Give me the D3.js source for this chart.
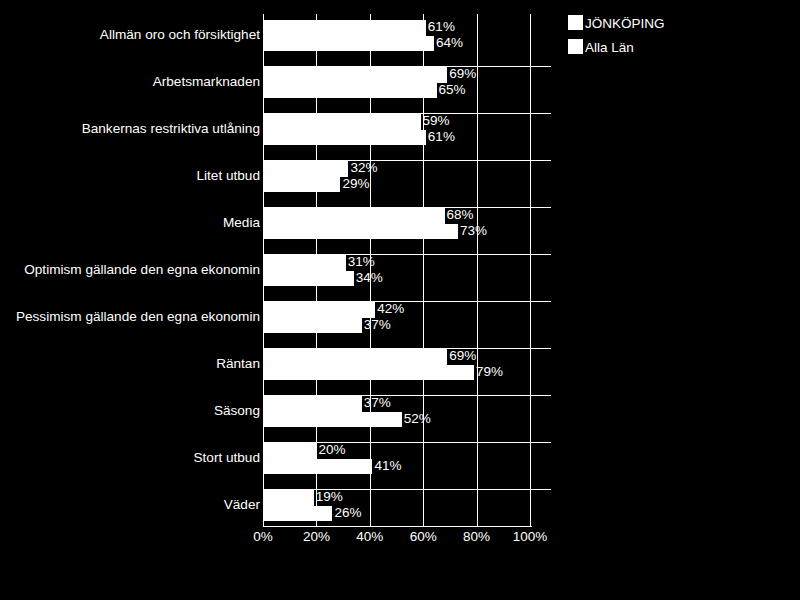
<!DOCTYPE html>
<html>
<head>
<meta charset="utf-8">
<script src="https://cdn.jsdelivr.net/npm/d3@7"></script>
<style>
  html, body { margin: 0; padding: 0; background: #000; }
  svg { display: block; }
  text { font-family: "Liberation Sans", Arial, sans-serif; fill: #fff; }
</style>
</head>
<body>
<svg id="chart" width="800" height="600"></svg>
<script>
const categories = [
  "Allmän oro och försiktighet",
  "Arbetsmarknaden",
  "Bankernas restriktiva utlåning",
  "Litet utbud",
  "Media",
  "Optimism gällande den egna ekonomin",
  "Pessimism gällande den egna ekonomin",
  "Räntan",
  "Säsong",
  "Stort utbud",
  "Väder"
];
const seriesNames = ["JÖNKÖPING", "Alla Län"];
const jonkoping = [61, 69, 59, 32, 68, 31, 42, 69, 37, 20, 19];
const allaLan   = [64, 65, 61, 29, 73, 34, 37, 79, 52, 41, 26];
const xTickValues = [0, 20, 40, 60, 80, 100];
const xTickLabels = ["0%", "20%", "40%", "60%", "80%", "100%"];

const svg = d3.select("#chart");
svg.append("rect").attr("width", 800).attr("height", 600).attr("fill", "#000");

const plotLeft = 263, plotRight = 530, plotTop = 14, plotBottom = 526;

const x = d3.scaleLinear().domain([0, 100]).range([plotLeft, plotRight]);
const y = d3.scaleBand().domain(categories).range([12, 529])
  .paddingInner(0.32).paddingOuter(0.16);
const ySub = d3.scaleBand().domain(seriesNames).range([0, y.bandwidth()]);

const g = svg.append("g").attr("shape-rendering", "crispEdges");

// horizontal gridlines (between category groups)
g.selectAll("line.hgrid").data(categories.slice(1)).enter().append("line")
  .attr("class", "hgrid")
  .attr("x1", plotLeft).attr("x2", 551)
  .attr("y1", d => Math.round(y(d)) - 0.5).attr("y2", d => Math.round(y(d)) - 0.5)
  .attr("stroke", "#fff").attr("stroke-width", 1);

// bars
const data = [];
categories.forEach((c, i) => {
  data.push({ cat: c, series: seriesNames[0], value: jonkoping[i] });
  data.push({ cat: c, series: seriesNames[1], value: allaLan[i] });
});

g.selectAll("rect.bar").data(data).enter().append("rect")
  .attr("class", "bar")
  .attr("x", plotLeft)
  .attr("y", d => y(d.cat) + ySub(d.series))
  .attr("width", d => x(d.value) - plotLeft)
  .attr("height", ySub.bandwidth())
  .attr("fill", "#fff");

// data labels with black backgrounds
const labelsG = svg.append("g");
data.forEach(d => {
  const bx = x(d.value) + 1;
  const by = y(d.cat) + ySub(d.series);
  const t = labelsG.append("text")
    .attr("x", bx + 1)
    .attr("y", by + ySub.bandwidth() / 2 - 1)
    .attr("dominant-baseline", "central")
    .attr("font-size", 13.5)
    .text(d.value + "%");
  const w = t.node().getComputedTextLength();
  labelsG.insert("rect", "text")
    .attr("x", bx).attr("y", by)
    .attr("width", w + 2).attr("height", ySub.bandwidth())
    .attr("fill", "#000").attr("shape-rendering", "crispEdges");
});

// vertical gridlines (drawn on top)
const overG = svg.append("g").attr("shape-rendering", "crispEdges");
overG.selectAll("line.vgrid").data(xTickValues.slice(1)).enter().append("line")
  .attr("x1", d => Math.round(x(d)) + 0.5).attr("x2", d => Math.round(x(d)) + 0.5)
  .attr("y1", plotTop).attr("y2", plotBottom)
  .attr("stroke", "#fff");

// axes lines
overG.append("line").attr("x1", plotLeft + 0.5).attr("x2", plotLeft + 0.5)
  .attr("y1", plotTop).attr("y2", plotBottom + 1).attr("stroke", "#fff");
overG.append("line").attr("x1", plotLeft).attr("x2", plotRight + 2)
  .attr("y1", plotBottom + 0.5).attr("y2", plotBottom + 0.5).attr("stroke", "#fff");

// x tick labels
svg.append("g").selectAll("text").data(xTickValues).enter().append("text")
  .attr("x", d => x(d))
  .attr("y", 541)
  .attr("text-anchor", "middle")
  .attr("font-size", 13.5)
  .text((d, i) => xTickLabels[i]);

// category labels
svg.append("g").selectAll("text").data(categories).enter().append("text")
  .attr("x", 260)
  .attr("y", d => y(d) + y.bandwidth() / 2 - 1)
  .attr("text-anchor", "end")
  .attr("dominant-baseline", "central")
  .attr("font-size", 13.6)
  .text(d => d);

// legend
const legend = svg.append("g");
seriesNames.forEach((s, i) => {
  legend.append("rect")
    .attr("x", 568).attr("y", 15 + i * 24)
    .attr("width", 15).attr("height", 15)
    .attr("fill", "#fff").attr("shape-rendering", "crispEdges");
  legend.append("text")
    .attr("x", 585).attr("y", 23 + i * 24)
    .attr("dominant-baseline", "central")
    .attr("font-size", 13.5)
    .text(s);
});
</script>
</body>
</html>
